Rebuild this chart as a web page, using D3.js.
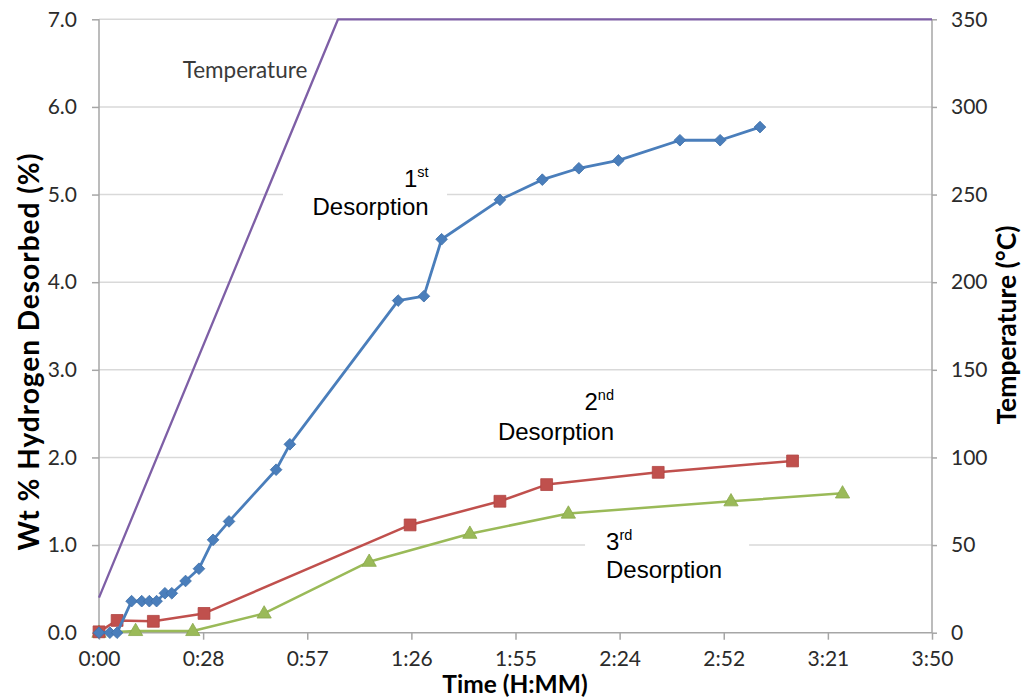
<!DOCTYPE html>
<html>
<head>
<meta charset="utf-8">
<script src="https://cdn.jsdelivr.net/npm/d3@7/dist/d3.min.js"></script>
<style>
  body { margin: 0; background: #fff; }
  svg { display: block; }
</style>
</head>
<body>
<svg id="chart" width="1031" height="697"></svg>
<script>
// Elapsed time in minutes, hydrogen released in wt %
const firstTime = [0, 3.0, 5.0, 9.0, 11.8, 13.9, 15.9, 18.2, 20.1, 23.9, 27.6, 31.5, 35.9, 48.9, 52.7, 82.6, 89.7, 94.6, 110.7, 122.4, 132.5, 143.4, 160.4, 171.5, 182.5];
const firstWt   = [0, 0.0, 0.0, 0.36, 0.36, 0.36, 0.36, 0.45, 0.45, 0.59, 0.73, 1.06, 1.27, 1.86, 2.15, 3.79, 3.84, 4.49, 4.94, 5.17, 5.30, 5.39, 5.62, 5.62, 5.77];

const secondTime = [0, 5.0, 15.0, 29.0, 85.9, 110.7, 123.6, 154.4, 191.5];
const secondWt   = [0.01, 0.14, 0.13, 0.22, 1.23, 1.50, 1.69, 1.83, 1.96];

const thirdTime = [0, 10.1, 25.9, 45.6, 74.6, 102.4, 129.6, 174.5, 205.3];
const thirdWt   = [0, 0.02, 0.02, 0.22, 0.81, 1.13, 1.36, 1.50, 1.59];

// Furnace program: ramp from room temperature to 350 °C, then hold
const tempTime = [0, 66, 230];
const tempC    = [20, 350, 350];

const timeTicks  = [0, 28.75, 57.5, 86.25, 115, 143.75, 172.5, 201.25, 230];
const timeLabels = ["0:00", "0:28", "0:57", "1:26", "1:55", "2:24", "2:52", "3:21", "3:50"];
const wtTicks    = [0, 1, 2, 3, 4, 5, 6, 7];
const tempTicks  = [0, 50, 100, 150, 200, 250, 300, 350];

const svg = d3.select("#chart");
const plot = { left: 99, right: 932, top: 19.3, bottom: 632.7 };

const x  = d3.scaleLinear().domain([0, 230]).range([plot.left, plot.right]);
const yL = d3.scaleLinear().domain([0, 7]).range([plot.bottom, plot.top]);
const yR = d3.scaleLinear().domain([0, 350]).range([plot.bottom, plot.top]);

const tickFont = "Lato, 'Open Sans', sans-serif";
const gridColor = "#d9d9d9";
const axisColor = "#a6a6a6";
const textColor = "#2b2b2b";

// Horizontal gridlines
svg.append("g")
  .selectAll("line")
  .data(wtTicks.filter(d => d > 0))
  .join("line")
  .attr("x1", plot.left).attr("x2", plot.right)
  .attr("y1", d => yL(d)).attr("y2", d => yL(d))
  .attr("stroke", gridColor).attr("stroke-width", 1.5);

// Axes
const gL = svg.append("g")
  .attr("transform", `translate(${plot.left},0)`)
  .call(d3.axisLeft(yL).tickValues(wtTicks).tickFormat(d3.format(".1f")).tickSize(7).tickPadding(15));
const gR = svg.append("g")
  .attr("transform", `translate(${plot.right},0)`)
  .call(d3.axisRight(yR).tickValues(tempTicks).tickFormat(d3.format("d")).tickSize(5).tickPadding(14));
const gB = svg.append("g")
  .attr("transform", `translate(0,${plot.bottom})`)
  .call(d3.axisBottom(x).tickValues(timeTicks).tickFormat((d, i) => timeLabels[i]).tickSize(7).tickPadding(11));

[gL, gR, gB].forEach(g => {
  g.select(".domain").attr("stroke", axisColor).attr("stroke-width", 1.5);
  g.selectAll(".tick line").attr("stroke", axisColor).attr("stroke-width", 1.5);
  g.selectAll(".tick text")
    .attr("fill", textColor)
    .style("font-family", tickFont)
    .style("font-size", "21px");
});
gL.select(".domain").attr("d", `M0,${plot.bottom}V${plot.top}`);
gR.select(".domain").attr("d", `M0,${plot.bottom}V${plot.top}`);
gB.select(".domain").attr("d", `M${plot.left},0H${plot.right}`);

// White backgrounds behind two of the annotations hide the gridlines there
function whiteBox(t0, t1, v0, v1) {
  svg.append("rect")
    .attr("x", x(t0)).attr("width", x(t1) - x(t0))
    .attr("y", yL(v0)).attr("height", yL(v1) - yL(v0))
    .attr("fill", "#fff");
}
whiteBox(50.8, 96.1, 5.3, 4.58);
whiteBox(134.2, 179.5, 1.12, 0.5);

// Series lines and markers
const line = d3.line();

function drawSeries(ts, vs, yScale, color, width, marker) {
  const pts = ts.map((t, i) => [x(t), yScale(vs[i])]);
  svg.append("path")
    .attr("d", line(pts))
    .attr("fill", "none")
    .attr("stroke", color)
    .attr("stroke-width", width)
    .attr("stroke-linejoin", "round");
  if (!marker) return;
  svg.append("g").selectAll("path")
    .data(pts)
    .join("path")
    .attr("d", d3.symbol().type(marker.type).size(marker.size))
    .attr("transform", d => `translate(${d[0]},${d[1] + (marker.dy || 0)}) rotate(${marker.rotate || 0})`)
    .attr("fill", color)
    .attr("stroke", marker.stroke)
    .attr("stroke-width", 0.8);
}

drawSeries(tempTime, tempC, yR, "#7e5fa6", 2.3, null);
drawSeries(thirdTime, thirdWt, yL, "#9aba58", 2.5, { type: d3.symbolTriangle, size: 88, stroke: "#8aa84c", dy: 0.5 });
drawSeries(secondTime, secondWt, yL, "#c0504d", 2.5, { type: d3.symbolSquare, size: 140, stroke: "#b04542" });
drawSeries(firstTime, firstWt, yL, "#4a7ebb", 2.8, { type: d3.symbolSquare, size: 68, stroke: "#3f70aa", rotate: 45 });

// Annotations
const annoFont = "'Liberation Sans', Arial, sans-serif";
function ordinalLabel(t, v, num, suffix, anchor) {
  const el = svg.append("text")
    .attr("x", x(t)).attr("y", yL(v))
    .attr("text-anchor", anchor)
    .attr("fill", "#000")
    .style("font-family", annoFont)
    .style("font-size", "24px");
  el.append("tspan").text(num);
  el.append("tspan").attr("dy", -10).style("font-size", "14.5px").text(suffix);
}
function descLabel(t, v, anchor) {
  svg.append("text")
    .attr("x", x(t)).attr("y", yL(v))
    .attr("text-anchor", anchor)
    .attr("fill", "#000")
    .style("font-family", annoFont)
    .style("font-size", "24px")
    .text("Desorption");
}
ordinalLabel(91.0, 5.09, "1", "st", "end");
descLabel(91.0, 4.77, "end");
ordinalLabel(142.2, 2.54, "2", "nd", "end");
descLabel(142.2, 2.20, "end");
ordinalLabel(140.0, 0.94, "3", "rd", "start");
descLabel(140.0, 0.62, "start");

svg.append("text")
  .attr("x", x(23.1)).attr("y", yR(316.5))
  .attr("fill", "#3a3a3a")
  .style("font-family", tickFont)
  .style("font-size", "22.5px")
  .text("Temperature");

// Axis titles
const titleFont = "Lato, 'Open Sans', sans-serif";
svg.append("text")
  .attr("transform", `translate(39,351.5) rotate(-90)`)
  .attr("text-anchor", "middle")
  .attr("fill", "#000")
  .style("font-family", titleFont).style("font-weight", "bold").style("font-size", "28px")
  .style("letter-spacing", "1px")
  .text("Wt % Hydrogen Desorbed (%)");

svg.append("text")
  .attr("transform", `translate(1016,325) rotate(-90)`)
  .attr("text-anchor", "middle")
  .attr("fill", "#000")
  .style("font-family", titleFont).style("font-weight", "bold").style("font-size", "26.5px")
  .text("Temperature (°C)");

svg.append("text")
  .attr("x", 515)
  .attr("y", 693)
  .attr("text-anchor", "middle")
  .attr("fill", "#000")
  .style("font-family", titleFont).style("font-weight", "bold").style("font-size", "24.5px")
  .text("Time (H:MM)");
</script>
</body>
</html>
